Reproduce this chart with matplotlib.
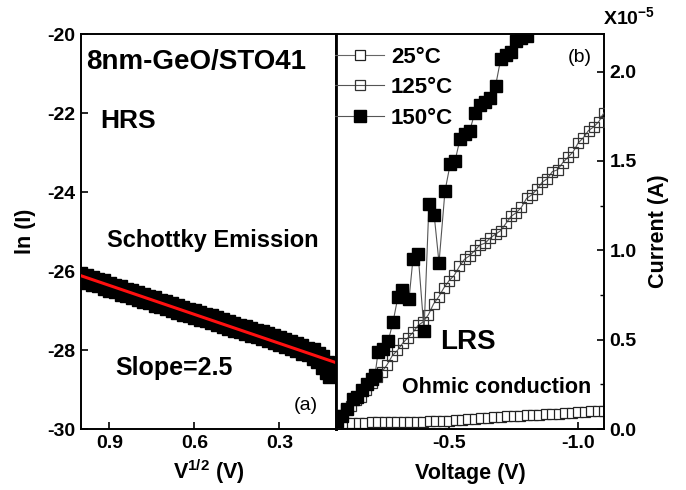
import matplotlib
matplotlib.use("Agg")
import matplotlib.pyplot as plt
import numpy as np

plt.rcParams['font.family'] = ['Liberation Sans', 'DejaVu Sans']
plt.rcParams['font.weight'] = 'bold'
plt.rcParams['mathtext.default'] = 'regular'

# ---- Panel (a): HRS, ln(I) vs V^1/2 ----
hrs_sqrtv = [1.01, 0.99, 0.97, 0.95, 0.93, 0.91, 0.89, 0.87, 0.85, 0.83, 0.81, 0.79,
             0.77, 0.75, 0.73, 0.71, 0.69, 0.67, 0.65, 0.63, 0.61, 0.59, 0.57, 0.55,
             0.53, 0.51, 0.49, 0.47, 0.45, 0.43, 0.41, 0.39, 0.37, 0.35, 0.33, 0.31,
             0.29, 0.27, 0.25, 0.23, 0.21, 0.19, 0.17, 0.155, 0.14, 0.125, 0.113]
hrs_lnI = [-26.12, -26.17, -26.24, -26.28, -26.31, -26.37, -26.42, -26.45, -26.52, -26.56,
           -26.60, -26.66, -26.70, -26.74, -26.80, -26.83, -26.89, -26.94, -26.98, -27.03,
           -27.06, -27.11, -27.17, -27.20, -27.24, -27.29, -27.33, -27.38, -27.44, -27.47,
           -27.52, -27.56, -27.60, -27.64, -27.70, -27.75, -27.80, -27.86, -27.90, -27.95,
           -28.02, -28.06, -28.14, -28.22, -28.38, -28.50, -28.62]
fit_x = [1.0, 0.1]
fit_y = [-26.12, -28.32]

# ---- Panel (b): LRS, I-V ----
v25 = [-0.075, -0.10, -0.125, -0.15, -0.175, -0.20, -0.225, -0.25, -0.275, -0.30,
       -0.325, -0.35, -0.375, -0.40, -0.425, -0.45, -0.475, -0.50, -0.525, -0.55,
       -0.575, -0.60, -0.625, -0.65, -0.675, -0.70, -0.725, -0.75, -0.775, -0.80,
       -0.825, -0.85, -0.875, -0.90, -0.925, -0.95, -0.975, -1.00, -1.025, -1.05,
       -1.075, -1.10]
i25 = [0.030, 0.032, 0.034, 0.035, 0.036, 0.037, 0.037, 0.038, 0.038, 0.039,
       0.039, 0.040, 0.040, 0.041, 0.042, 0.043, 0.045, 0.047, 0.049, 0.051,
       0.054, 0.057, 0.060, 0.064, 0.067, 0.069, 0.071, 0.073, 0.075, 0.077,
       0.078, 0.080, 0.082, 0.084, 0.086, 0.089, 0.091, 0.094, 0.096, 0.098,
       0.100, 0.102]

v125 = [-0.06, -0.08, -0.10, -0.12, -0.14, -0.16, -0.18, -0.20, -0.22, -0.24,
        -0.26, -0.28, -0.30, -0.32, -0.34, -0.36, -0.38, -0.40, -0.42, -0.44,
        -0.46, -0.48, -0.50, -0.52, -0.54, -0.56, -0.58, -0.60, -0.62, -0.64,
        -0.66, -0.68, -0.70, -0.72, -0.74, -0.76, -0.78, -0.80, -0.82, -0.84,
        -0.86, -0.88, -0.90, -0.92, -0.94, -0.96, -0.98, -1.00, -1.02, -1.04,
        -1.06, -1.08, -1.10]
i125 = [0.04, 0.08, 0.11, 0.13, 0.16, 0.18, 0.22, 0.26, 0.29, 0.32,
        0.36, 0.41, 0.44, 0.48, 0.51, 0.54, 0.58, 0.60, 0.64, 0.70,
        0.74, 0.79, 0.83, 0.86, 0.91, 0.95, 0.97, 1.00, 1.03, 1.04,
        1.07, 1.09, 1.11, 1.15, 1.19, 1.21, 1.24, 1.29, 1.31, 1.34,
        1.38, 1.40, 1.44, 1.45, 1.49, 1.52, 1.55, 1.60, 1.63, 1.67,
        1.69, 1.72, 1.77]

v150 = [-0.066, -0.085, -0.105, -0.128, -0.143, -0.163, -0.182, -0.202, -0.213,
        -0.225, -0.244, -0.264, -0.283, -0.302, -0.318, -0.345, -0.360, -0.380,
        -0.403, -0.422, -0.442, -0.461, -0.484, -0.504, -0.523, -0.542, -0.561,
        -0.580, -0.600, -0.620, -0.640, -0.660, -0.680, -0.700, -0.720, -0.740,
        -0.760, -0.780, -0.800, -0.820, -0.840]
i150 = [0.045, 0.07, 0.11, 0.17, 0.18, 0.22, 0.25, 0.28, 0.30,
        0.43, 0.45, 0.49, 0.60, 0.74, 0.78, 0.73, 0.95, 0.98,
        0.55, 1.26, 1.20, 0.93, 1.33, 1.48, 1.50, 1.62, 1.65,
        1.67, 1.77, 1.81, 1.83, 1.85, 1.92, 2.07, 2.09, 2.11,
        2.17, 2.19, 2.20, 2.30, 2.38]

labels = ['25°C', '125°C', '150°C']

fig = plt.figure(figsize=(6.86, 4.90), dpi=100)
axL = fig.add_axes([81/686, 1-429/490, (336-81)/686, (429-34)/490])
axR = fig.add_axes([336/686, 1-429/490, (604-336)/686, (429-34)/490])

# panel (a)
axL.plot(hrs_sqrtv, hrs_lnI, 's', color='black', ms=12.5, mec='black', zorder=2)
axL.plot(fit_x, fit_y, '-', color='#ff1010', lw=2.2, zorder=3)
axL.set_xlim(1.0, 0.1)
axL.set_ylim(-30, -20)
axL.set_xticks([0.9, 0.6, 0.3])
axL.set_xticklabels(['0.9', '0.6', '0.3'])
axL.set_yticks([-30, -28, -26, -24, -22, -20])
axL.set_yticklabels(['-30', '-28', '-26', '-24', '-22', '-20'])
axL.tick_params(direction='in', length=5, width=1.2, labelsize=14, pad=4)
axL.set_xlabel('V$^{1/2}$ (V)', fontsize=15.5, fontweight='bold', labelpad=4)
axL.set_ylabel('ln (I)', fontsize=15.5, fontweight='bold', labelpad=8)
for s in axL.spines.values():
    s.set_linewidth(1.4)
axL.spines['right'].set_linewidth(2.0)

axL.text(0.02, 0.93, '8nm-GeO/STO41', transform=axL.transAxes, fontsize=20,
         fontweight='bold', ha='left', va='center')
axL.text(0.075, 0.78, 'HRS', transform=axL.transAxes, fontsize=19,
         fontweight='bold', ha='left', va='center')
axL.text(0.102, 0.476, 'Schottky Emission', transform=axL.transAxes, fontsize=17,
         fontweight='bold', ha='left', va='center')
axL.text(0.133, 0.154, 'Slope=2.5', transform=axL.transAxes, fontsize=18,
         fontweight='bold', ha='left', va='center')
axL.text(0.93, 0.06, '(a)', transform=axL.transAxes, fontsize=14,
         fontweight='normal', ha='right', va='center')

# panel (b)
sc = 1e-5
axR.plot(v25, np.array(i25)*sc, '-s', color='#666666', lw=0.8, ms=7.5,
         mfc='white', mec='#222222', mew=0.9, label=labels[0], zorder=2)
axR.plot(v125, np.array(i125)*sc, '-s', color='#555555', lw=0.8, ms=7.8,
         mfc='none', mec='#333333', mew=0.9, label=labels[1], zorder=3)
axR.plot(v150, np.array(i150)*sc, '-s', color='#555555', lw=0.8, ms=8,
         mfc='black', mec='black', label=labels[2], zorder=4)
axR.set_xlim(-0.062, -1.1)
axR.set_ylim(0, 2.21e-5)
axR.set_xticks([-0.5, -1.0])
axR.set_xticklabels(['-0.5', '-1.0'])
axR.yaxis.tick_right()
axR.yaxis.set_label_position('right')
axR.set_yticks([0, 0.5e-5, 1.0e-5, 1.5e-5, 2.0e-5])
axR.set_yticklabels(['0.0', '0.5', '1.0', '1.5', '2.0'])
axR.set_yticks([0.25e-5, 0.75e-5, 1.25e-5, 1.75e-5], minor=True)
axR.tick_params(which='major', direction='in', length=5, width=1.2, labelsize=14, pad=4)
axR.tick_params(which='minor', direction='in', length=3, width=1.0)
axR.set_xlabel('Voltage (V)', fontsize=15.5, fontweight='bold', labelpad=8)
axR.set_ylabel('Current (A)', fontsize=15.5, fontweight='bold', labelpad=8)
for s in axR.spines.values():
    s.set_linewidth(1.4)
axR.spines['left'].set_linewidth(2.0)

axR.text(0.995, 1.015, 'X10$^{-5}$', transform=axR.transAxes, fontsize=14,
         fontweight='bold', ha='left', va='bottom')
axR.text(0.955, 0.94, '(b)', transform=axR.transAxes, fontsize=14,
         fontweight='normal', ha='right', va='center')
axR.text(0.388, 0.22, 'LRS', transform=axR.transAxes, fontsize=20,
         fontweight='bold', ha='left', va='center')
axR.text(0.246, 0.104, 'Ohmic conduction', transform=axR.transAxes, fontsize=15.5,
         fontweight='bold', ha='left', va='center')

leg = axR.legend(loc='upper left', bbox_to_anchor=(-0.05, 1.0), frameon=False,
                 handlelength=2.2, handletextpad=0.3,
                 borderaxespad=0.0, borderpad=0.58, labelspacing=0.42,
                 prop={'weight': 'bold', 'size': 16})

fig.savefig('out.png', dpi=100)
